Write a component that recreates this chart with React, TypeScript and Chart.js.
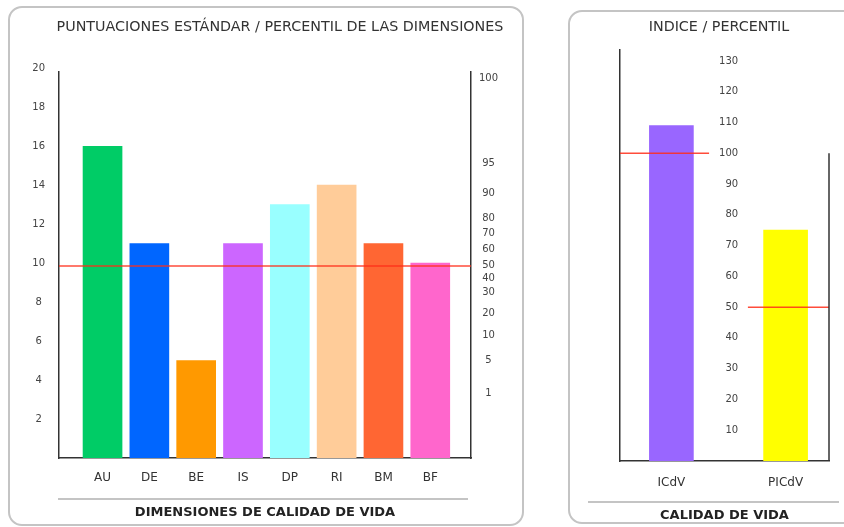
import React, { useEffect, useRef } from "react";
import { Chart, registerables } from "chart.js";

Chart.register(...registerables);

// ---------- data: left panel ----------
const DIM_LABELS = ["AU", "DE", "BE", "IS", "DP", "RI", "BM", "BF"];
const DIM_SCORES = [16, 11, 5, 11, 13, 14, 11, 10];
const DIM_COLORS = ["#00CC66", "#0066FF", "#FF9900", "#CC66FF", "#99FFFF", "#FFCC99", "#FF6633", "#FF66CC"];
const SCORE_TICKS = [2, 4, 6, 8, 10, 12, 14, 16, 18, 20];
const PCT_LABELS = ["100", "95", "90", "80", "70", "60", "50", "40", "30", "20", "10", "5", "1"];
const PCT_AT_SCORE = [19.5, 15.1, 13.6, 12.3, 11.5, 10.7, 9.9, 9.2, 8.5, 7.4, 6.3, 5.0, 3.3];
const SCORE_REF = 9.85;

// ---------- data: right panel ----------
const QOL_LABELS = ["ICdV", "PICdV"];
const QOL_VALUES = [109, 75];
const QOL_COLORS = ["#9966FF", "#FFFF00"];
const INDEX_TICKS = [130, 120, 110, 100, 90, 80, 70, 60, 50, 40, 30, 20, 10];
const INDEX_MEAN = 100;
const PCT_MEDIAN = 50;
const PCT_MAX = 100;

const FONT = "'DejaVu Sans', sans-serif";
const AXIS = "#333333";
const RED = "rgba(255,45,25,0.85)";

const leftPlugin = {
  id: "leftDeco",
  afterDatasetsDraw(chart: any) {
    const { ctx, chartArea, scales } = chart;
    const y = scales.y.getPixelForValue(SCORE_REF);
    ctx.save();
    ctx.strokeStyle = RED;
    ctx.lineWidth = 1.5;
    ctx.beginPath();
    ctx.moveTo(chartArea.left, y);
    ctx.lineTo(chartArea.right, y);
    ctx.stroke();
    ctx.restore();
  },
  afterDraw(chart: any) {
    const { ctx, chartArea } = chart;
    const y = chartArea.bottom + 41;
    ctx.save();
    ctx.strokeStyle = "#b0b0b0";
    ctx.lineWidth = 1.5;
    ctx.beginPath();
    ctx.moveTo(chartArea.left - 1, y);
    ctx.lineTo(chartArea.right - 3, y);
    ctx.stroke();
    ctx.restore();
  },
};

const rightPlugin = {
  id: "rightDeco",
  afterDatasetsDraw(chart: any) {
    const { ctx, chartArea, scales } = chart;
    const yi = scales.y.getPixelForValue(INDEX_MEAN);
    const yp = scales.y.getPixelForValue(PCT_MEDIAN);
    ctx.save();
    ctx.strokeStyle = RED;
    ctx.lineWidth = 1.5;
    ctx.beginPath();
    ctx.moveTo(chartArea.left, yi);
    ctx.lineTo(scales.x.getPixelForValue(0.33), yi);
    ctx.moveTo(scales.x.getPixelForValue(0.67), yp);
    ctx.lineTo(chartArea.right, yp);
    ctx.stroke();
    ctx.restore();
  },
  afterDraw(chart: any) {
    const { ctx, chartArea, scales } = chart;
    ctx.save();
    ctx.strokeStyle = AXIS;
    ctx.lineWidth = 1.5;
    ctx.beginPath();
    ctx.moveTo(chartArea.right, scales.y.getPixelForValue(PCT_MAX));
    ctx.lineTo(chartArea.right, chartArea.bottom);
    ctx.stroke();
    const y = chartArea.bottom + 41;
    ctx.strokeStyle = "#b0b0b0";
    ctx.beginPath();
    ctx.moveTo(chartArea.left - 32, y);
    ctx.lineTo(chartArea.right + 10, y);
    ctx.stroke();
    ctx.restore();
  },
};

function LeftChart() {
  const ref = useRef<HTMLCanvasElement | null>(null);
  useEffect(() => {
    if (!ref.current) return;
    const chart = new Chart(ref.current, {
      type: "bar",
      data: {
        datasets: [
          {
            data: DIM_SCORES.map((v, i) => ({ x: i, y: v })),
            backgroundColor: DIM_COLORS,
            borderWidth: 0,
            barThickness: 39,
          } as any,
        ],
      },
      options: {
        responsive: false,
        animation: false,
        devicePixelRatio: 1,
        layout: { padding: 0 },
        plugins: {
          legend: { display: false },
          tooltip: { enabled: false },
          title: {
            display: true,
            text: "PUNTUACIONES ESTÁNDAR / PERCENTIL DE LAS DIMENSIONES",
            color: "#333",
            font: { family: FONT, size: 14.3, weight: "normal" },
            padding: { top: 19, bottom: 36 },
          },
        },
        scales: {
          x: {
            type: "linear",
            offset: false,
            min: -0.93,
            max: 7.87,
            afterBuildTicks: (s: any) => {
              s.ticks = DIM_LABELS.map((_, i) => ({ value: i }));
            },
            afterFit: (s: any) => {
              s.height = 69;
            },
            grid: { display: false, drawTicks: false },
            border: { display: true, color: AXIS, width: 1.5 },
            ticks: {
              autoSkip: false,
              maxRotation: 0,
              padding: 13,
              color: "#333",
              font: { family: FONT, size: 12 },
              callback: (_v: any, i: number) => DIM_LABELS[i],
            },
            title: {
              display: true,
              text: "DIMENSIONES DE CALIDAD DE VIDA",
              color: "#222",
              font: { family: FONT, size: 13, weight: "bold" },
              padding: { top: 0, bottom: 7 },
            },
          },
          y: {
            type: "linear",
            position: "left",
            min: 0,
            max: 19.8,
            afterBuildTicks: (s: any) => {
              s.ticks = SCORE_TICKS.map((v) => ({ value: v }));
            },
            afterFit: (s: any) => {
              s.width = 51;
            },
            grid: { display: false, drawTicks: false },
            border: { display: true, color: AXIS, width: 1.5 },
            ticks: {
              autoSkip: false,
              crossAlign: "center",
              padding: 14,
              color: "#444",
              font: { family: FONT, size: 10 },
            },
          },
          y2: {
            type: "linear",
            position: "right",
            min: 0,
            max: 19.8,
            afterBuildTicks: (s: any) => {
              s.ticks = PCT_AT_SCORE.map((v) => ({ value: v }));
            },
            afterFit: (s: any) => {
              s.width = 81;
            },
            grid: { display: false, drawTicks: false },
            border: { display: true, color: AXIS, width: 1.5 },
            ticks: {
              autoSkip: false,
              crossAlign: "center",
              padding: 8,
              color: "#444",
              font: { family: FONT, size: 10 },
              callback: (_v: any, i: number) => PCT_LABELS[i],
            },
          },
        },
      } as any,
      plugins: [leftPlugin],
    });
    return () => chart.destroy();
  }, []);
  return <canvas ref={ref} width={544} height={527} style={{ position: "absolute", left: 8, top: 0 }} />;
}

function RightChart() {
  const ref = useRef<HTMLCanvasElement | null>(null);
  useEffect(() => {
    if (!ref.current) return;
    const chart = new Chart(ref.current, {
      type: "bar",
      data: {
        datasets: [
          {
            data: QOL_VALUES.map((v, i) => ({ x: i, y: v })),
            backgroundColor: QOL_COLORS,
            borderWidth: 0,
            barThickness: 44,
          } as any,
        ],
      },
      options: {
        responsive: false,
        animation: false,
        devicePixelRatio: 1,
        layout: { padding: 0 },
        plugins: {
          legend: { display: false },
          tooltip: { enabled: false },
          title: {
            display: true,
            text: "INDICE / PERCENTIL",
            color: "#333",
            font: { family: FONT, size: 14.3, weight: "normal" },
            padding: { top: 19, bottom: 14 },
          },
        },
        scales: {
          x: {
            type: "linear",
            offset: false,
            min: -0.45,
            max: 1.38,
            afterBuildTicks: (s: any) => {
              s.ticks = QOL_LABELS.map((_, i) => ({ value: i }));
            },
            afterFit: (s: any) => {
              s.height = 66;
            },
            grid: { display: false, drawTicks: false },
            border: { display: true, color: AXIS, width: 1.5 },
            ticks: {
              autoSkip: false,
              maxRotation: 0,
              padding: 15,
              color: "#333",
              font: { family: FONT, size: 12 },
              callback: (_v: any, i: number) => QOL_LABELS[i],
            },
            title: {
              display: true,
              text: "CALIDAD DE VIDA",
              color: "#222",
              font: { family: FONT, size: 13, weight: "bold" },
              padding: { top: 0, bottom: 4 },
            },
          },
          yL: {
            type: "linear",
            position: "left",
            min: 0,
            max: 133.5,
            afterFit: (s: any) => {
              s.width = 51;
            },
            grid: { display: false, drawTicks: false },
            border: { display: true, color: AXIS, width: 1.5 },
            ticks: { display: false },
          },
          yR: {
            type: "linear",
            position: "right",
            min: 0,
            max: 133.5,
            afterFit: (s: any) => {
              s.width = 40;
            },
            grid: { display: false, drawTicks: false },
            border: { display: false },
            ticks: { display: false },
          },
          y: {
            type: "linear",
            position: { x: 0.585 },
            min: 0,
            max: 133.5,
            afterBuildTicks: (s: any) => {
              s.ticks = INDEX_TICKS.map((v) => ({ value: v }));
            },
            grid: { display: false, drawTicks: false },
            border: { display: false },
            ticks: {
              autoSkip: false,
              padding: 0,
              color: "#444",
              font: { family: FONT, size: 10 },
            },
          },
        },
      } as any,
      plugins: [rightPlugin],
    });
    return () => chart.destroy();
  }, []);
  return <canvas ref={ref} width={300} height={527} style={{ position: "absolute", left: 569, top: 0 }} />;
}

export default function App() {
  return (
    <div
      style={{
        position: "fixed",
        left: 0,
        top: 0,
        width: 844,
        height: 527,
        overflow: "hidden",
        background: "#fff",
      }}
    >
      <div
        style={{
          position: "absolute",
          left: 8,
          top: 6,
          width: 516,
          height: 520,
          border: "2px solid #c4c4c4",
          borderRadius: 14,
          boxSizing: "border-box",
        }}
      />
      <div
        style={{
          position: "absolute",
          left: 568,
          top: 10,
          width: 300,
          height: 514,
          border: "2px solid #c4c4c4",
          borderRadius: 14,
          boxSizing: "border-box",
        }}
      />
      <LeftChart />
      <RightChart />
    </div>
  );
}
